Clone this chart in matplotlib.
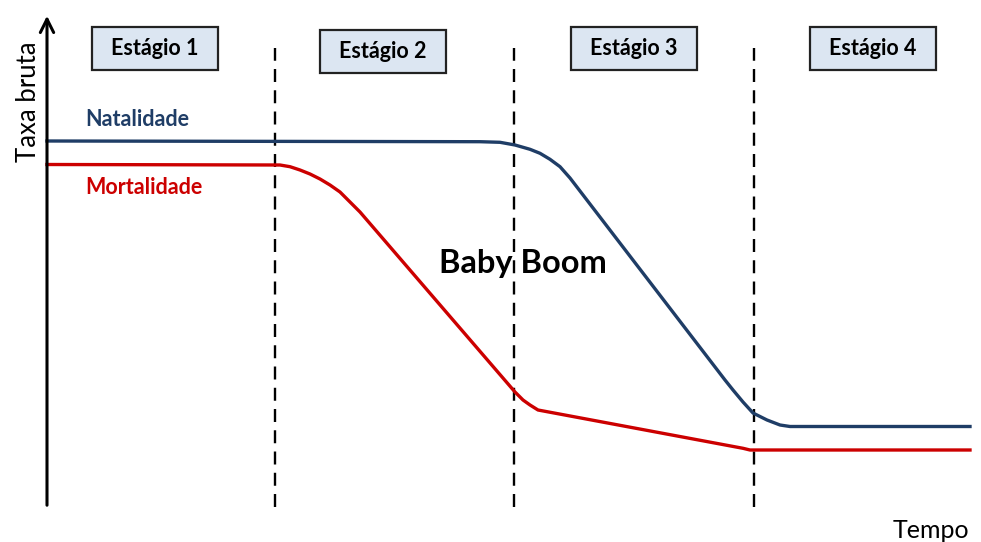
import matplotlib.pyplot as plt
from matplotlib.patches import Rectangle

plt.rcParams['font.family'] = ['Lato', 'DejaVu Sans']

# tempo (eixo x) e taxa (eixo y), em unidades arbitrárias
nat_t = [0, 433, 453, 468, 483, 493, 503, 513, 523, 678, 686, 696, 706, 720, 733, 743, 923]
nat_y = [366, 365.3, 364.7, 362, 357.7, 353.7, 347.7, 340.3, 329, 127, 117, 105, 94, 87, 82, 80.5, 80.5]

mor_t = [0, 233, 243, 253, 263, 273, 283, 293, 303, 313, 468, 476, 483, 491, 696, 703, 923]
mor_y = [342.5, 342, 340.3, 337, 333, 328, 322, 315, 305, 295, 115, 107, 102, 97, 58.7, 57, 57]

limites = [228, 467, 707]
estagios = ['Estágio 1', 'Estágio 2', 'Estágio 3', 'Estágio 4']
caixa_t0 = [45, 273, 524, 763]
caixa_y0 = [437, 434, 437, 437]
caixa_w = 126
caixa_h = 43

azul = '#1F3D66'
vermelho = '#CC0000'

fig = plt.figure(figsize=(9.81, 5.42), dpi=100)
ax = fig.add_axes([0, 0, 1, 1])
ax.set_xlim(-47, 934)
ax.set_ylim(-35, 507)
ax.axis('off')

# eixos com setas
ax.annotate('', xy=(0, 494), xytext=(0, -1),
            arrowprops=dict(arrowstyle='->', lw=2.2, color='black', mutation_scale=24))
ax.annotate('', xy=(940, 0), xytext=(-1, 0),
            arrowprops=dict(arrowstyle='->', lw=2.2, color='black', mutation_scale=24))

# divisões dos estágios
for t in limites:
    ax.plot([t, t], [0, 459], color='black', lw=1.7, linestyle=(0, (5.5, 3.5)))

# curvas
ax.plot(nat_t, nat_y, color=azul, lw=2.4, solid_joinstyle='round')
ax.plot(mor_t, mor_y, color=vermelho, lw=2.4, solid_joinstyle='round')

# caixas dos estágios
for nome, t0, y0 in zip(estagios, caixa_t0, caixa_y0):
    ax.add_patch(Rectangle((t0, y0), caixa_w, caixa_h, fc='#DCE6F2', ec='#222222', lw=1.6))
    ax.text(t0 + caixa_w / 2, y0 + caixa_h / 2, nome, ha='center', va='center',
            fontsize=15.5, fontweight='bold')

ax.text(38, 388, 'Natalidade', color=azul, fontsize=15.5, fontweight='bold', va='center')
ax.text(38, 320, 'Mortalidade', color=vermelho, fontsize=15.5, fontweight='bold', va='center')
ax.text(476, 244, 'Baby Boom', fontsize=23.5, fontweight='bold', ha='center', va='center')

ax.text(-19, 405, 'Taxa bruta', fontsize=18.5, rotation=90, ha='center', va='center')
ax.text(884, -23, 'Tempo', fontsize=18, ha='center', va='center')

fig.savefig('out.png', dpi=100)
